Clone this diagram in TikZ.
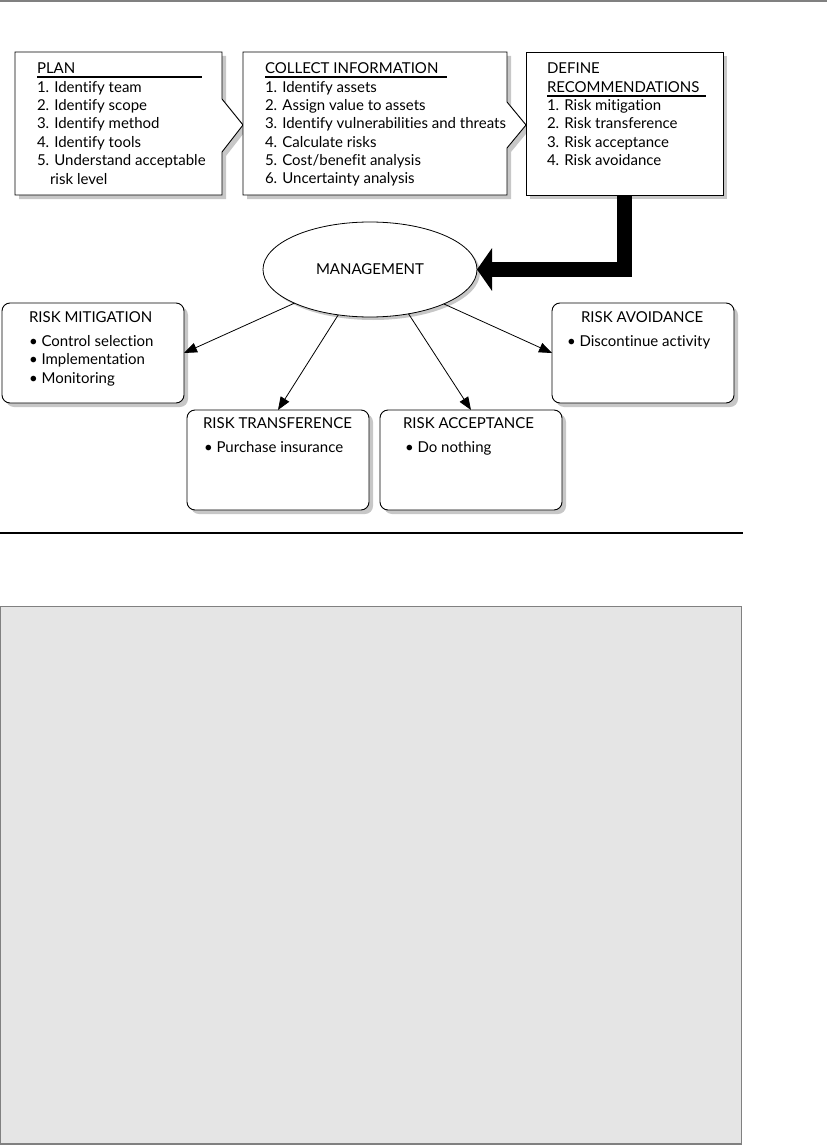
\documentclass[tikz,border=0pt]{standalone}
\usepackage{fontspec}
\setmainfont{Lato}[Ligatures=NoCommon]
\usetikzlibrary{arrows.meta,shadows,shapes.geometric}
\begin{document}
\begin{tikzpicture}[x=1pt,y=-1pt,
  every node/.style={inner sep=0pt, outer sep=0pt},
  txt/.style={anchor=base west, font=\fontsize{15}{18}\selectfont},
  shad/.style={drop shadow={shadow xshift=4pt, shadow yshift=-4pt, fill=black!22, opacity=1}},
  panel/.style={draw, line width=0.9pt, fill=white, shad},
  riskbox/.style={panel, rounded corners=8pt, minimum width=182pt, minimum height=100pt},
  ul/.style={line width=1.6pt},
  conn/.style={line width=0.8pt, -{Triangle[length=13pt,width=10pt]}},
  bigarrow/.style={line width=15pt, -{Triangle[length=15pt,width=42pt]}}
]
\useasboundingbox (0,0) rectangle (827,1145);

% top rule
\draw[line width=2pt, black!50] (0,1) -- (827,1);

% top panels
\path[panel] (15,52) -- (222,52) -- (222,99) -- (243,125) -- (222,152) -- (222,195) -- (15,195) -- cycle;
\path[panel] (243,52) -- (507,52) -- (507,102) -- (526,125) -- (507,148) -- (507,195) -- (243,195) -- cycle;
\node[panel, minimum width=197pt, minimum height=143pt] (def) at (624.5,123.5) {};

% PLAN
\foreach \t [count=\i] in {PLAN, 1. Identify team, 2. Identify scope, 3. Identify method, 4. Identify tools, 5. Understand acceptable}
  \node[txt] (plan\i) at (37,{74+18.33*(\i-1)}) {\t};
\node[txt] (plan7) at (50,184) {risk level};
\draw[ul] (37,77) -- (202,77);

% COLLECT
\foreach \t [count=\i] in {COLLECT INFORMATION, 1. Identify assets, 2. Assign value to assets, 3. Identify vulnerabilities and threats, 4. Calculate risks, 5. Cost/benefit analysis, 6. Uncertainty analysis}
  \node[txt] (col\i) at (265,{74+18.33*(\i-1)}) {\t};
\draw[ul] (265,77) -- (447,77);

% DEFINE
\foreach \t [count=\i] in {DEFINE, RECOMMENDATIONS, 1. Risk mitigation, 2. Risk transference, 3. Risk acceptance, 4. Risk avoidance}
  \node[txt] (def\i) at (547,{74+18.33*(\i-1)}) {\t};
\draw[ul] (547,96.3) -- (706,96.3);

% management ellipse
\node[ellipse, draw, line width=0.8pt, fill=white, minimum width=214pt, minimum height=95pt,
  drop shadow={shadow xshift=3pt, shadow yshift=-3pt, fill=black!22, opacity=1},
  font=\fontsize{15}{18}\selectfont] (mgmt) at (370,269.5) {MANAGEMENT};

% big arrow
\draw[bigarrow] (def.south) |- (mgmt.east);

% risk boxes
\node[riskbox] (mit) at (93,353) {};
\node[riskbox] (avo) at (643,353) {};
\node[riskbox] (tra) at (278,460) {};
\node[riskbox] (acc) at (471,460) {};

\node[txt] (mitT) at (29,322) {RISK MITIGATION};
\node[txt] (mit1) at (29,346) {• Control selection};
\node[txt] (mit2) at (29,364.5) {• Implementation};
\node[txt] (mit3) at (29,383) {• Monitoring};

\node[txt] (traT) at (203,428) {RISK TRANSFERENCE};
\node[txt] (tra1) at (204,452) {• Purchase insurance};

\node[txt] (accT) at (403,428) {RISK ACCEPTANCE};
\node[txt] (acc1) at (405,452) {• Do nothing};

\node[txt] (avoT) at (581,322) {RISK AVOIDANCE};
\node[txt] (avo1) at (567,346) {• Discontinue activity};

% connectors
\draw[conn] (mgmt.204) -- (mit.east);
\draw[conn] (mgmt.235) -- (tra.north);
\draw[conn] (mgmt.311) -- (acc.north);
\draw[conn] (mgmt.335) -- (avo.west);

% rule and grey panel
\draw[line width=2.2pt] (0,533) -- (743,533);
\draw[fill=black!10, draw=black!50, line width=1.2pt] (0.6,606.5) rectangle (741.5,1144);
\end{tikzpicture}
\end{document}
